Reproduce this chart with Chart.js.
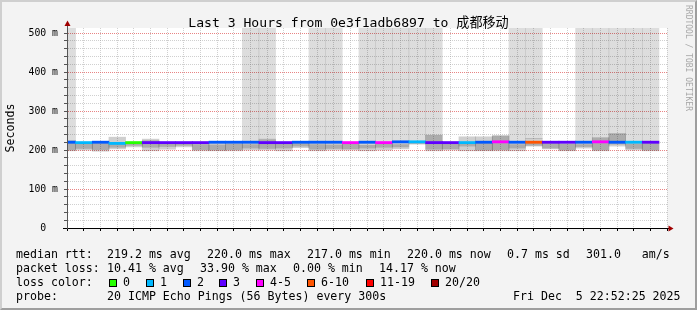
<!DOCTYPE html>
<html>
<head>
<meta charset="utf-8">
<script src="https://cdn.jsdelivr.net/npm/chart.js"></script>
<style>
html,body{margin:0;padding:0;background:#f3f3f3;}
#wrap{position:relative;width:697px;height:310px;overflow:hidden;background:#f3f3f3;}
#frame{position:absolute;left:0;top:0;width:697px;height:310px;box-sizing:border-box;border-top:2px solid #cfcfcf;border-left:2px solid #cfcfcf;border-right:2px solid #9e9e9e;border-bottom:2px solid #9e9e9e;pointer-events:none;}
canvas{position:absolute;left:0;top:0;}
.t{position:absolute;font-family:"DejaVu Sans Mono","Noto Sans CJK SC",monospace;white-space:pre;color:#000;}
.lg{font-size:11.6px;line-height:14px;}
.box{position:absolute;width:8px;height:8px;box-sizing:border-box;border:1px solid #000;}
#title{left:0;width:697px;text-align:center;top:14.5px;font-size:13.1px;line-height:15px;}
#wm{font-size:8px;line-height:10px;color:#a8a8a8;transform:rotate(90deg);transform-origin:0 0;left:692.5px;top:5px;}
</style>
</head>
<body>
<div id="wrap">
  <canvas id="c" width="697" height="310" style="width:697px;height:310px"></canvas>
  <div id="title" class="t">Last 3 Hours from 0e3f1adb6897 to 成都移动</div>
  <div id="wm" class="t">RRDTOOL / TOBI OETIKER</div>
  <div id="legend"></div>
  <div id="frame"></div>
</div>
<script>
// ---------- data ----------
const windowStart = '19:52:25';
const windowEnd   = '22:52:25';
const slotEnd = ['19:55','20:00','20:05','20:10','20:15','20:20','20:25','20:30','20:35','20:40',
                 '20:45','20:50','20:55','21:00','21:05','21:10','21:15','21:20','21:25','21:30',
                 '21:35','21:40','21:45','21:50','21:55','22:00','22:05','22:10','22:15','22:20',
                 '22:25','22:30','22:35','22:40','22:45','22:50'];
// median rtt (ms)
const medianMs = [220,219,220,217,219,219,219,219,219,220,
                  220,220,219,219,220,220,220,219,220,219,
                  221,221,219,219,219,220,221,220,220,220,
                  220,220,221,220,220,220];
// lost pings out of 20
const lossCount = [2,1,2,1,0,3,3,3,3,2,
                   2,2,3,3,2,2,2,4,2,4,
                   2,1,3,3,1,2,4,2,7,3,
                   3,2,4,2,1,3];
// smoke: full ping range (ms)
const smokeLo = [198,200,197,203,208,198,202,208,198,198,
                 198,200,200,198,206,198,200,200,198,200,
                 203,215,198,200,198,198,198,198,210,203,
                 198,205,198,210,200,198];
const smokeHi = [224,217,220,233,220,228,219,219,219,219,
                 219,219,228,219,219,219,219,218,219,219,
                 220,221,238,220,234,234,237,222,230,220,
                 220,220,232,242,220,220];
// smoke: dense core (ms)
const coreLo = [200,204,201,207,212,207,209,212,201,200,
                201,205,204,205,210,202,204,203,205,207,
                208,217,202,203,210,200,201,205,212,205,
                200,209,200,215,204,200];
const coreHi = [220,216,217,215,218,224,218,218,214,213,
                215,214,226,215,217,214,213,215,212,216,
                214,219,237,218,219,218,236,214,222,218,
                215,214,230,241,216,218];
// slots whose upper pings went off the scale (1 = yes)
const offScale = [1,0,0,0,0,0,0,0,0,0,
                  0,1,1,0,0,1,1,0,1,1,
                  1,1,1,0,0,0,0,1,1,0,
                  0,1,1,1,1,1];
const lossLegend = [
  {label:'0',     max:0,  color:'#26ff00'},
  {label:'1',     max:1,  color:'#00b8ff'},
  {label:'2',     max:2,  color:'#0059ff'},
  {label:'3',     max:3,  color:'#5e00ff'},
  {label:'4-5',   max:5,  color:'#ff00ff'},
  {label:'6-10',  max:10, color:'#ff5500'},
  {label:'11-19', max:19, color:'#ff0000'},
  {label:'20/20', max:20, color:'#a10000'}
];
const yTickValues = [0,100,200,300,400,500];
const statsLine1 = [[16,'median rtt:'],[107,'219.2 ms avg'],[207,'220.0 ms max'],[307,'217.0 ms min'],[407,'220.0 ms now'],[507,'0.7 ms sd'],[586,'301.0   am/s']];
const statsLine2 = [[16,'packet loss:'],[107,'10.41 % avg'],[200,'33.90 % max'],[293,'0.00 % min'],[379,'14.17 % now']];
const statsLine4 = [[16,'probe:'],[107,'20 ICMP Echo Pings (56 Bytes) every 300s'],[513,'Fri Dec  5 22:52:25 2025']];

// ---------- style constants ----------
const STEP_MIN = 5;
const Y_MAX = 513;
const MEDIAN_HALF_MS = 2.8;
const FONT = "'DejaVu Sans Mono', monospace";
const GRID_MINOR = 'rgba(150,150,150,0.45)';
const GRID_MAJOR = 'rgba(222,80,80,0.7)';
const ARROW = '#a00000';

// ---------- helpers ----------
function toMin(s){ const p=s.split(':').map(Number); return p[0]*60+p[1]+(p[2]||0)/60-1200; }
function fmt(m){ const t=m+1200; const h=Math.floor(t/60), mm=Math.round(t%60); return String(h).padStart(2,'0')+':'+String(mm).padStart(2,'0'); }
function lossColor(n){ for(const l of lossLegend){ if(n<=l.max) return l.color; } return lossLegend[lossLegend.length-1].color; }

const xCenter = slotEnd.map(s => toMin(s) - STEP_MIN/2);

const dsOff = [], dsSmoke = [], dsCore = [], dsMed = [];
xCenter.forEach((x,i) => {
  if (offScale[i]) dsOff.push({x, y:[smokeHi[i], Y_MAX]});
  dsSmoke.push({x, y:[smokeLo[i], smokeHi[i]]});
  dsCore.push({x, y:[coreLo[i], coreHi[i]]});
  dsMed.push({x, y:[medianMs[i]-MEDIAN_HALF_MS, medianMs[i]+MEDIAN_HALF_MS]});
});
const medColors = lossCount.map(lossColor);

// ---------- legend (HTML text) ----------
const lg = document.getElementById('legend');
function addText(x, top, txt){ const d=document.createElement('div'); d.className='t lg'; d.style.left=x+'px'; d.style.top=top+'px'; d.textContent=txt; lg.appendChild(d); }
statsLine1.forEach(p => addText(p[0], 247.3, p[1]));
statsLine2.forEach(p => addText(p[0], 261.1, p[1]));
addText(16, 274.9, 'loss color:');
const boxX = [109,146,183,219,256,307,366,431];
lossLegend.forEach((l,i) => {
  const b=document.createElement('div'); b.className='box'; b.style.left=boxX[i]+'px'; b.style.top='278.5px'; b.style.background=l.color; lg.appendChild(b);
  addText(boxX[i]+14, 274.9, l.label);
});
statsLine4.forEach(p => addText(p[0], 288.7, p[1]));

// ---------- chart ----------
Chart.defaults.font.family = FONT;
Chart.defaults.color = '#000';

const bgPlugin = {
  id:'bg',
  beforeDraw(chart){ const {ctx, chartArea:a}=chart; ctx.save(); ctx.fillStyle='#fff'; ctx.fillRect(a.left,a.top,a.right-a.left,a.bottom-a.top); ctx.restore(); }
};
const arrowPlugin = {
  id:'arrows',
  afterDraw(chart){
    const {ctx, chartArea:a}=chart;
    ctx.save();
    ctx.strokeStyle='#555'; ctx.lineWidth=1;
    ctx.beginPath(); ctx.moveTo(a.left+0.5,a.top); ctx.lineTo(a.left+0.5,a.top-3); ctx.stroke();
    ctx.strokeStyle='#000';
    ctx.beginPath(); ctx.moveTo(a.left-4,a.bottom+0.5); ctx.lineTo(a.left,a.bottom+0.5); ctx.stroke();
    ctx.beginPath(); ctx.moveTo(a.right,a.bottom+0.5); ctx.lineTo(a.right+2,a.bottom+0.5); ctx.stroke();
    ctx.fillStyle=ARROW;
    ctx.beginPath(); ctx.moveTo(a.left+0.5,a.top-7.5); ctx.lineTo(a.left-2.5,a.top-2); ctx.lineTo(a.left+3.5,a.top-2); ctx.closePath(); ctx.fill();
    ctx.beginPath(); ctx.moveTo(a.right+6.5,a.bottom+0.5); ctx.lineTo(a.right+1.5,a.bottom-2.5); ctx.lineTo(a.right+1.5,a.bottom+3.5); ctx.closePath(); ctx.fill();
    ctx.restore();
  }
};

new Chart(document.getElementById('c'), {
  type:'bar',
  data:{ datasets:[
    {label:'median rtt', data:dsMed, backgroundColor:medColors, order:0},
    {label:'smoke core', data:dsCore, backgroundColor:'rgba(0,0,0,0.17)', order:1},
    {label:'smoke', data:dsSmoke, backgroundColor:'rgba(0,0,0,0.19)', order:2},
    {label:'off scale', data:dsOff, backgroundColor:'rgba(0,0,0,0.135)', order:3}
  ]},
  options:{
    responsive:false, animation:false, events:[],
    layout:{padding:{left:0,right:30,top:28,bottom:0}, autoPadding:false},
    plugins:{legend:{display:false}, tooltip:{enabled:false}, title:{display:false}},
    datasets:{bar:{grouped:false, barPercentage:1, categoryPercentage:1, borderWidth:0}},
    scales:{
      x:{
        type:'linear', offset:false,
        min:toMin(windowStart), max:toMin(windowEnd),
        afterFit(s){ s.height = 82; },
        grid:{offset:false, lineWidth:1,
          color:c => (c.tick && Math.round(c.tick.value)%20===0) ? GRID_MAJOR : GRID_MINOR,
          tickLength:3, tickColor:'#000'},
        border:{display:true, color:'#000', width:1, dash:[1,1], z:2},
        ticks:{stepSize:STEP_MIN, includeBounds:false, autoSkip:false, maxRotation:0, padding:0,
          font:{size:9.8}, color:'#000',
          callback:v => (Math.round(v)%20===0) ? fmt(v) : ''}
      },
      y:{
        min:0, max:Y_MAX,
        afterFit(s){ s.width = 67; },
        grid:{lineWidth:1,
          color:c => (c.tick && yTickValues.includes(c.tick.value)) ? GRID_MAJOR : GRID_MINOR,
          tickLength:3, tickColor:'#555'},
        border:{display:true, color:'#555', width:1, dash:[1,1], z:2},
        title:{display:true, text:'Seconds', font:{size:11.6}, color:'#000', padding:{top:4,bottom:4}},
        ticks:{stepSize:20, includeBounds:false, autoSkip:false, padding:6,
          font:{size:9.8}, color:'#000',
          callback:v => yTickValues.includes(v) ? (v===0 ? '0  ' : v+' m') : ''}
      }
    }
  },
  plugins:[bgPlugin, arrowPlugin]
});
</script>
</body>
</html>
